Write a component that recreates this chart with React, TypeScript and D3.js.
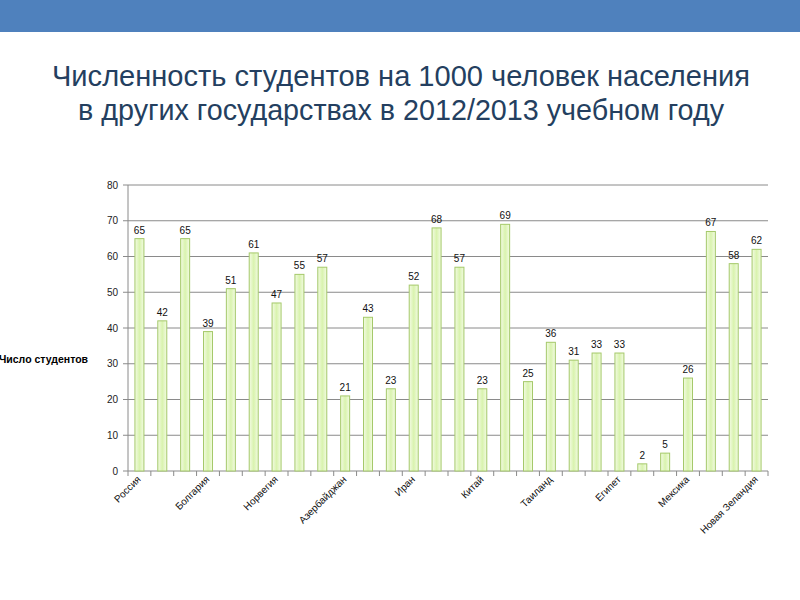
import React from "react";
import * as d3 from "d3";

const categories: string[] = [
  "Россия", "c2", "c3", "Болгария", "c5", "c6", "Норвегия", "c8", "c9",
  "Азербайджан", "c11", "c12", "Иран", "c14", "c15", "Китай", "c17", "c18",
  "Таиланд", "c20", "c21", "Египет", "c23", "c24", "Мексика", "c26", "c27",
  "Новая Зеландия",
];
const shownLabelIdx: number[] = [0, 3, 6, 9, 12, 15, 18, 21, 24, 27];
const values: number[] = [
  65, 42, 65, 39, 51, 61, 47, 55, 57, 21, 43, 23, 52, 68, 57, 23, 69, 25, 36,
  31, 33, 33, 2, 5, 26, 67, 58, 62,
];
const yTicks: number[] = [0, 10, 20, 30, 40, 50, 60, 70, 80];
const titleLines: string[] = [
  "Численность студентов на 1000 человек населения",
  "в других государствах в 2012/2013 учебном году",
];
const yAxisTitle = "Число студентов";

export default function App() {
  const W = 800, H = 600;
  const left = 128, right = 768, top = 185, bottom = 471;
  const x = d3.scaleBand<number>().domain(d3.range(values.length)).range([left, right]).paddingInner(0).paddingOuter(0);
  const y = d3.scaleLinear().domain([0, 80]).range([bottom, top]);
  const bw = 9;
  const font = "'Liberation Sans', Arial, sans-serif";
  const titleWidths = [698, 646];
  return (
    <svg width={W} height={H} style={{ position: "absolute", left: 0, top: 0, background: "#fff" }}>
      <defs>
        <linearGradient id="barG" x1="0" x2="1" y1="0" y2="0">
          <stop offset="0" stopColor="#f3fbe4" />
          <stop offset="0.5" stopColor="#d9f3ae" />
          <stop offset="1" stopColor="#f3fbe4" />
        </linearGradient>
      </defs>
      <rect x={0} y={0} width={W} height={32} fill="#4f81bd" />
      {titleLines.map((t, i) => (
        <text key={i} x={401} y={86 + i * 34} textAnchor="middle" fill="#243f60"
          textLength={titleWidths[i]} lengthAdjust="spacingAndGlyphs"
          style={{ fontFamily: "'Liberation Sans', Arial, sans-serif", fontSize: 29 }}>
          {t}
        </text>
      ))}
      {yTicks.map((t) => (
        <g key={t}>
          <line x1={left - 5} x2={right} y1={y(t)} y2={y(t)} stroke="#8a8a8a" strokeWidth={1} />
          <text x={118} y={y(t) + 3.5} textAnchor="end" fill="#222" style={{ fontFamily: font, fontSize: 10 }}>{t}</text>
        </g>
      ))}
      <line x1={left} x2={left} y1={top} y2={bottom} stroke="#8a8a8a" />
      {d3.range(values.length + 1).map((i) => {
        const xx = i < values.length ? (x(i) as number) : right;
        return <line key={i} x1={xx} x2={xx} y1={bottom} y2={bottom + 5} stroke="#8a8a8a" />;
      })}
      {values.map((v, i) => {
        const cx = (x(i) as number) + x.bandwidth() / 2;
        return (
          <g key={i}>
            <rect x={cx - bw / 2} y={y(v)} width={bw} height={y(0) - y(v)} fill="url(#barG)" stroke="#a5c96a" strokeWidth={1} />
            <text x={cx} y={y(v) - 5} textAnchor="middle" fill="#111" style={{ fontFamily: font, fontSize: 10 }}>{v}</text>
          </g>
        );
      })}
      {shownLabelIdx.map((i) => {
        const cx = (x(i) as number) + x.bandwidth() / 2 + 2;
        return (
          <text key={i} x={cx} y={bottom + 9} textAnchor="end" fill="#111"
            transform={`rotate(-45 ${cx} ${bottom + 9})`} style={{ fontFamily: font, fontSize: 10 }}>
            {categories[i]}
          </text>
        );
      })}
      <text x={88} y={363} textAnchor="end" fill="#000" style={{ fontFamily: font, fontSize: 10.5, fontWeight: "bold" }}>{yAxisTitle}</text>
    </svg>
  );
}
